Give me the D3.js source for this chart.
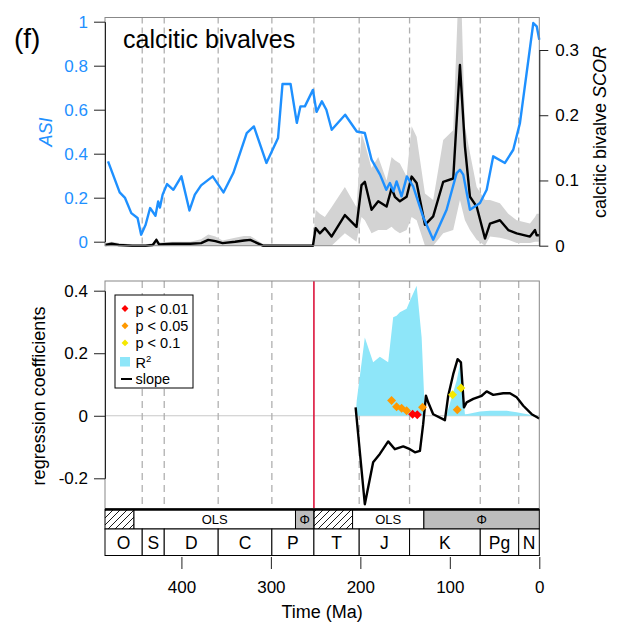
<!DOCTYPE html>
<meta charset="utf-8">
<style>
  body { margin: 0; background: white; }
  svg, svg text, .axis { font-family: "Liberation Sans", Arimo, Arial, sans-serif; }
  svg { background-color: white; }
  .axis text { font-size: 17px; }
  .axis path, .axis line { stroke: #222; }
</style>
<div id="chart"></div>
<script src="https://cdn.jsdelivr.net/npm/d3@7"></script>
<script>
// ---- data (ages in Ma) ----
var asiAge = [482, 469, 463, 456, 449, 445, 440, 435, 429, 426, 424, 421, 416, 409, 400, 391, 385, 378, 365, 353, 342, 327, 319, 305, 292, 287, 278, 271, 267, 262, 253, 249, 243, 238, 232, 217, 204, 195, 187.5, 178, 171, 167, 163, 159.5, 154, 148, 141, 130, 118.6, 103.6, 92.4, 88.7, 85, 77.5, 66.3, 58.8, 51.5, 38.4, 29.1, 21.6, 6.7, 2.9, 0];
var asiVal = [0.365, 0.224, 0.199, 0.13, 0.108, 0.032, 0.077, 0.153, 0.118, 0.183, 0.155, 0.214, 0.262, 0.236, 0.297, 0.142, 0.214, 0.256, 0.297, 0.224, 0.312, 0.494, 0.524, 0.358, 0.471, 0.717, 0.717, 0.54, 0.615, 0.615, 0.69, 0.59, 0.638, 0.6, 0.509, 0.577, 0.501, 0.494, 0.373, 0.305, 0.236, 0.267, 0.229, 0.274, 0.206, 0.297, 0.251, 0.115, 0.009, 0.145, 0.312, 0.327, 0.305, 0.145, 0.176, 0.236, 0.388, 0.358, 0.418, 0.54, 0.994, 0.979, 0.918];

var scorAge = [485, 478, 470, 455, 440, 432, 428, 425, 410, 390, 378, 370, 362, 354, 340, 330, 323, 309, 280, 253, 250, 245.3, 239.7, 232.2, 217.3, 204.3, 198.7, 195, 187.5, 180, 170.7, 165.1, 161.4, 155.8, 148.3, 142.7, 137.1, 127.8, 118.6, 107.4, 96.2, 88.7, 83.1, 77.5, 70, 60.7, 55.1, 44, 34.7, 25.3, 10.4, 4.8, 2.9, 0];
var scorVal = [0.001, 0.003, 0.001, 0, 0, 0.001, 0.009, 0.002, 0.003, 0.003, 0.004, 0.009, 0.007, 0.004, 0.006, 0.008, 0.009, 0, 0, 0, 0.027, 0.019, 0.027, 0.014, 0.047, 0.029, 0.093, 0.098, 0.055, 0.068, 0.06, 0.088, 0.075, 0.068, 0.075, 0.106, 0.096, 0.032, 0.045, 0.098, 0.103, 0.277, 0.152, 0.075, 0.06, 0.011, 0.034, 0.039, 0.024, 0.019, 0.014, 0.024, 0.016, 0.016];
var scorHi = [0.004, 0.006, 0.004, 0.002, 0.002, 0.004, 0.012, 0.005, 0.006, 0.006, 0.01, 0.017, 0.014, 0.008, 0.012, 0.015, 0.015, 0.003, 0.002, 0.002, 0.055, 0.049, 0.044, 0.059, 0.09, 0.059, 0.172, 0.157, 0.119, 0.136, 0.1, 0.136, 0.131, 0.126, 0.106, 0.183, 0.167, 0.08, 0.07, 0.162, 0.177, 0.45, 0.183, 0.142, 0.09, 0.07, 0.07, 0.065, 0.049, 0.039, 0.034, 0.044, 0.049, 0.049];
var scorLo = [0, 0, 0, 0, 0, 0, 0, 0, 0, 0, 0, 0, 0, 0, 0, 0, 0, 0, 0, 0, 0, 0, 0, 0, 0.019, 0.006, 0.044, 0.039, 0.019, 0.024, 0.024, 0.029, 0.024, 0.019, 0.024, 0.044, 0.039, 0, 0, 0.019, 0.024, 0.07, 0.039, 0.024, 0.009, 0, 0.014, 0.012, 0.009, 0.004, 0.004, 0.006, 0.006, 0.006];

var r2Age = [205.3, 204, 195, 185.7, 178.2, 168.9, 163.3, 159.5, 155.8, 148.3, 144.6, 137.1, 131.5, 127.8, 104, 92.4, 88.7, 87.5, 83.1, 80, 66.3, 55, 36.4, 25.3, 15, 7, 0];
var r2Val = [0, 0.05, 0.25, 0.171, 0.189, 0.171, 0.315, 0.32, 0.331, 0.342, 0.368, 0.416, 0.25, 0, 0, 0.112, 0.165, 0.13, 0.005, 0.006, 0.014, 0.016, 0.016, 0.011, 0.006, 0.002, 0];

var slopeAge = [205.3, 195, 185.7, 178.2, 168.9, 161.4, 152.1, 144.6, 139, 133.4, 129.8, 126.7, 124.2, 118.6, 105.5, 101.8, 96.2, 91.3, 87.6, 84.2, 81.2, 73.8, 64.4, 58.8, 51.5, 40.3, 32.8, 25.3, 17.9, 8.5, 0];
var slopeVal = [0.027, -0.283, -0.149, -0.122, -0.082, -0.107, -0.098, -0.107, -0.117, -0.112, -0.027, 0.064, 0.043, 0.005, -0.014, 0.064, 0.133, 0.181, 0.171, 0.027, 0.043, 0.054, 0.064, 0.078, 0.067, 0.072, 0.072, 0.059, 0.032, 0.005, -0.009];

var ptAge = [165.1, 159.5, 153.9, 148.3, 130.5, 91.7, 141.6, 136.4, 96.9, 87.6];
var ptVal = [0.049, 0.029, 0.024, 0.016, 0.027, 0.019, 0.005, 0.003, 0.067, 0.089];
var ptSig = ["p < 0.05", "p < 0.05", "p < 0.05", "p < 0.05", "p < 0.05", "p < 0.05", "p < 0.01", "p < 0.01", "p < 0.1", "p < 0.1"];

var periodNames = ["O", "S", "D", "C", "P", "T", "J", "K", "Pg", "N"];
var periodBounds = [485.4, 443.8, 419.2, 358.9, 298.9, 251.9, 201.3, 145, 66, 23.03, 0];
var methodType = ["hatch", "OLS", "\u03A6", "hatch", "OLS", "\u03A6"];
var methodBounds = [485.4, 453, 272.5, 251.9, 208.7, 129, 0];
var extinctionAge = 251.9;

var sigColors = {"p < 0.01": "#ff0000", "p < 0.05": "#ff9900", "p < 0.1": "#f5e800"};

// ---- layout ----
var W = 618, H = 628;
var p1 = {top: 17.5, bottom: 245.7}, p2 = {top: 281, bottom: 508.5};
var x = d3.scaleLinear().domain([485.4, 0]).range([105, 539.3]);
var yAsi = d3.scaleLinear().domain([0, 1]).range([241.7, 21.7]);
var yScor = d3.scaleLinear().domain([0, 0.3]).range([245.7, 50]);
var yReg = d3.scaleLinear().domain([-0.2, 0.4]).range([478.3, 290.7]);
var xl = x.range()[0], xr = x.range()[1];

var svg = d3.select("#chart").append("svg")
    .attr("width", W).attr("height", H)
    .attr("font-family", "'Liberation Sans', Arimo, Arial, sans-serif");

var defs = svg.append("defs");
defs.append("clipPath").attr("id", "clip1").append("rect")
    .attr("x", xl).attr("y", p1.top).attr("width", xr - xl).attr("height", p1.bottom - p1.top);
var hatch = defs.append("pattern").attr("id", "hatch")
    .attr("patternUnits", "userSpaceOnUse").attr("width", 7).attr("height", 7);
hatch.append("path").attr("d", "M0,7 L7,0 M-1,1 L1,-1 M6,8 L8,6")
    .attr("stroke", "#000").attr("stroke-width", 0.9);

var bounds = periodBounds.slice(1, -1);

// square turned 45 degrees, like R's pch 18
var diamond = d3.symbol().type(d3.symbolSquare).size(40);

// ===== top panel =====
var g1 = svg.append("g");
g1.selectAll(".vl").data(bounds).enter().append("line")
    .attr("x1", d => x(d)).attr("x2", d => x(d))
    .attr("y1", p1.top).attr("y2", p1.bottom)
    .attr("stroke", "#b0b0b0").attr("stroke-width", 1.3).attr("stroke-dasharray", "6,4");

var scorData = scorAge.map((a, i) => ({a: a, v: scorVal[i], lo: scorLo[i], hi: scorHi[i]}));
g1.append("path").datum(scorData)
    .attr("clip-path", "url(#clip1)")
    .attr("fill", "#d3d3d3")
    .attr("d", d3.area().x(d => x(d.a)).y0(d => yScor(d.lo)).y1(d => yScor(d.hi)));

g1.append("path").datum(scorData)
    .attr("fill", "none").attr("stroke", "#000").attr("stroke-width", 2.4)
    .attr("stroke-linejoin", "round")
    .attr("d", d3.line().x(d => x(d.a)).y(d => yScor(d.v)));

g1.append("path").datum(asiAge.map((a, i) => [a, asiVal[i]]))
    .attr("fill", "none").attr("stroke", "#1e90ff").attr("stroke-width", 2.4)
    .attr("stroke-linejoin", "round")
    .attr("d", d3.line().x(d => x(d[0])).y(d => yAsi(d[1])));

g1.append("rect").attr("x", xl).attr("y", p1.top)
    .attr("width", xr - xl).attr("height", p1.bottom - p1.top)
    .attr("fill", "none").attr("stroke", "#888");

var axL = g1.append("g").attr("class", "axis")
    .attr("transform", "translate(" + xl + ",0)")
    .call(d3.axisLeft(yAsi).tickValues([0, 0.2, 0.4, 0.6, 0.8, 1]).tickFormat(d => String(d))
      .tickSize(11).tickSizeOuter(0).tickPadding(6));
axL.selectAll("text").attr("fill", "#1e90ff");

g1.append("g").attr("class", "axis")
    .attr("transform", "translate(" + xr + ",0)")
    .call(d3.axisRight(yScor).tickValues([0, 0.1, 0.2, 0.3]).tickFormat(d => String(d))
      .tickSize(9).tickSizeOuter(0).tickPadding(7));

g1.append("text").attr("transform", "translate(52,132) rotate(-90)")
    .attr("text-anchor", "middle").attr("font-size", 18).attr("font-style", "italic")
    .attr("fill", "#1e90ff").text("ASI");
var rt = g1.append("text").attr("transform", "translate(606,132) rotate(-90)")
    .attr("text-anchor", "middle").attr("font-size", 18);
rt.append("tspan").text("calcitic bivalve ");
rt.append("tspan").attr("font-style", "italic").text("SCOR");

svg.append("text").attr("x", 14).attr("y", 48)
    .attr("font-family", "Lato, 'Open Sans', sans-serif").attr("font-size", 28).text("(f)");
svg.append("text").attr("x", 123).attr("y", 48)
    .attr("font-family", "Lato, 'Open Sans', sans-serif").attr("font-size", 25).text("calcitic bivalves");

// ===== bottom panel =====
var g2 = svg.append("g");
g2.append("line").attr("x1", xl).attr("x2", xr)
    .attr("y1", yReg(0)).attr("y2", yReg(0))
    .attr("stroke", "#c8c8c8").attr("stroke-width", 1.2);

g2.selectAll(".vl").data(bounds.filter(d => d !== extinctionAge)).enter().append("line")
    .attr("x1", d => x(d)).attr("x2", d => x(d))
    .attr("y1", p2.top).attr("y2", p2.bottom)
    .attr("stroke", "#b0b0b0").attr("stroke-width", 1.3).attr("stroke-dasharray", "7,5");

g2.append("path").datum(r2Age.map((a, i) => [a, r2Val[i]]))
    .attr("fill", "#8ee6f9")
    .attr("d", d3.area().x(d => x(d[0])).y0(yReg(0)).y1(d => yReg(d[1])));

g2.append("line").attr("x1", x(extinctionAge)).attr("x2", x(extinctionAge))
    .attr("y1", p2.top).attr("y2", p2.bottom)
    .attr("stroke", "#dc143c").attr("stroke-width", 1.6);

g2.append("path").datum(slopeAge.map((a, i) => [a, slopeVal[i]]))
    .attr("fill", "none").attr("stroke", "#000").attr("stroke-width", 2.4)
    .attr("stroke-linejoin", "round")
    .attr("d", d3.line().x(d => x(d[0])).y(d => yReg(d[1])));

g2.selectAll(".pt").data(ptAge.map((a, i) => ({a: a, v: ptVal[i], s: ptSig[i]}))).enter()
    .append("path")
    .attr("transform", d => "translate(" + x(d.a) + "," + yReg(d.v) + ") rotate(45)")
    .attr("d", diamond).attr("fill", d => sigColors[d.s]);

g2.append("rect").attr("x", xl).attr("y", p2.top)
    .attr("width", xr - xl).attr("height", p2.bottom - p2.top)
    .attr("fill", "none").attr("stroke", "#888");

g2.append("g").attr("class", "axis")
    .attr("transform", "translate(" + xl + ",0)")
    .call(d3.axisLeft(yReg).tickValues([-0.2, 0, 0.2, 0.4]).tickFormat(d => String(d))
      .tickSize(11).tickSizeOuter(0).tickPadding(6));

g2.append("text").attr("transform", "translate(45,396) rotate(-90)")
    .attr("text-anchor", "middle").attr("font-size", 18).text("regression coefficients");

// legend
var lg = g2.append("g").attr("transform", "translate(115,295)");
lg.append("rect").attr("width", 78).attr("height", 93)
    .attr("fill", "white").attr("stroke", "#000").attr("stroke-width", 1);
var legSig = ["p < 0.01", "p < 0.05", "p < 0.1"];
legSig.forEach(function(s, i) {
  lg.append("path").attr("transform", "translate(10," + (13.5 + i * 17.2) + ") rotate(45)")
      .attr("d", d3.symbol().type(d3.symbolSquare).size(24)).attr("fill", sigColors[s]);
  lg.append("text").attr("x", 20.5).attr("y", 18.5 + i * 17.2).attr("font-size", 14.5).text(s);
});
lg.append("rect").attr("x", 5).attr("y", 62).attr("width", 10).attr("height", 9.5).attr("fill", "#8ee6f9");
var r2t = lg.append("text").attr("x", 20.5).attr("y", 73).attr("font-size", 14.5);
r2t.append("tspan").text("R");
r2t.append("tspan").attr("font-size", 9.5).attr("dy", -6).text("2");
lg.append("line").attr("x1", 6).attr("x2", 17).attr("y1", 84).attr("y2", 84)
    .attr("stroke", "#000").attr("stroke-width", 2);
lg.append("text").attr("x", 20.5).attr("y", 88.5).attr("font-size", 14.5).text("slope");

// ===== timescale =====
var ts = svg.append("g");
var r1 = {y: 509.5, h: 19.5}, r2 = {y: 529, h: 26.5};
var methods = methodType.map((t, i) => ({t: t, a0: methodBounds[i], a1: methodBounds[i + 1]}));
ts.selectAll(".m").data(methods).enter().append("rect")
    .attr("x", d => x(d.a0)).attr("width", d => x(d.a1) - x(d.a0))
    .attr("y", r1.y).attr("height", r1.h)
    .attr("fill", d => d.t === "hatch" ? "url(#hatch)" : (d.t === "OLS" ? "white" : "#bdbdbd"))
    .attr("stroke", "#000").attr("stroke-width", 1);
ts.selectAll(".mt").data(methods.filter(d => d.t !== "hatch")).enter().append("text")
    .attr("x", d => (x(d.a0) + x(d.a1)) / 2).attr("y", r1.y + 14.5)
    .attr("text-anchor", "middle").attr("font-size", 13).text(d => d.t);

var periods = periodNames.map((n, i) => ({n: n, a0: periodBounds[i], a1: periodBounds[i + 1]}));
ts.selectAll(".p").data(periods).enter().append("rect")
    .attr("x", d => x(d.a0)).attr("width", d => x(d.a1) - x(d.a0))
    .attr("y", r2.y).attr("height", r2.h)
    .attr("fill", "white").attr("stroke", "#000").attr("stroke-width", 1);
ts.selectAll(".pn").data(periods).enter().append("text")
    .attr("x", d => (x(d.a0) + x(d.a1)) / 2).attr("y", r2.y + 19.5)
    .attr("text-anchor", "middle").attr("font-size", 17.5).text(d => d.n);
ts.append("line").attr("x1", xl).attr("x2", xr).attr("y1", r1.y).attr("y2", r1.y)
    .attr("stroke", "#000").attr("stroke-width", 2.5);

var axB = ts.append("g").attr("class", "axis")
    .attr("transform", "translate(0,557)")
    .call(d3.axisBottom(x).tickValues([400, 300, 200, 100, 0]).tickSize(12).tickPadding(12));
axB.select(".domain").remove();
axB.selectAll("line").attr("stroke", "#666");

svg.append("text").attr("x", (xl + xr) / 2).attr("y", 618)
    .attr("text-anchor", "middle").attr("font-size", 18).text("Time (Ma)");
</script>
